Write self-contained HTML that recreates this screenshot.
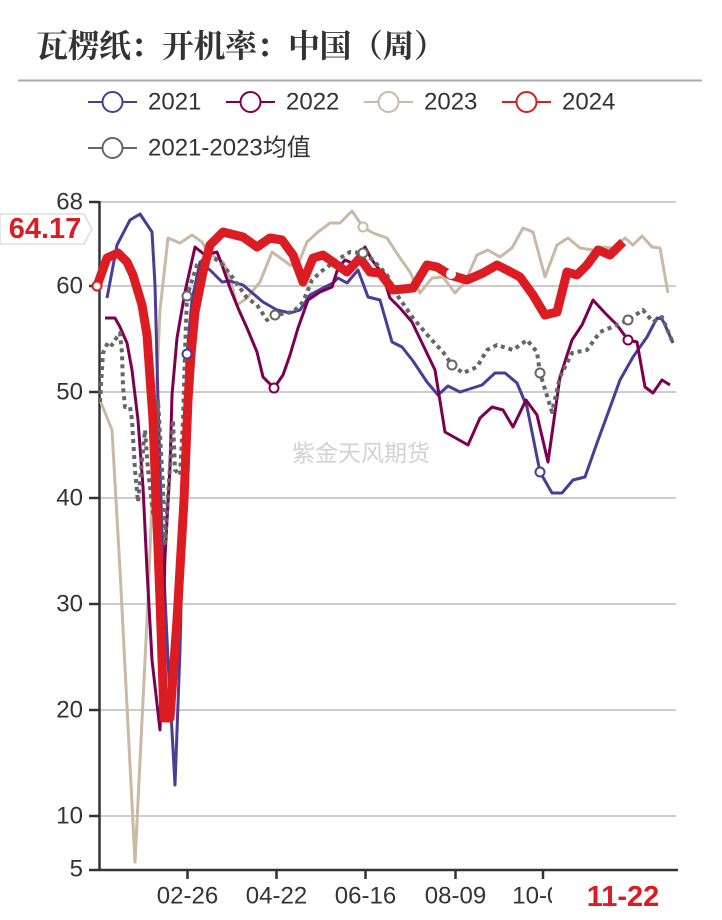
<!DOCTYPE html>
<html><head><meta charset="utf-8"><style>
html,body{margin:0;padding:0;background:#fff;}
svg{display:block;}
</style></head><body>
<svg width="722" height="920" viewBox="0 0 722 920" xmlns="http://www.w3.org/2000/svg">
<rect width="722" height="920" fill="#fff"/>
<text x="36" y="46" dominant-baseline="central" font-family="'Liberation Serif','Noto Serif CJK SC',serif" font-weight="bold" font-size="32" letter-spacing="-0.5" fill="#333">瓦楞纸：开机率：中国（周）</text>
<line x1="18" y1="80.5" x2="702" y2="80.5" stroke="#aaa" stroke-width="2"/>

<g font-family="'Liberation Sans','Noto Sans CJK SC',sans-serif" font-size="24" fill="#333">
<line x1="88" y1="102" x2="137" y2="102" stroke="#4B3C96" stroke-width="2"/><circle cx="112.5" cy="102" r="10" fill="#fff" stroke="#4B3C96" stroke-width="2"/>
<text x="148" y="102" dominant-baseline="central">2021</text>
<line x1="226" y1="102" x2="275" y2="102" stroke="#7B0050" stroke-width="2"/><circle cx="250.5" cy="102" r="10" fill="#fff" stroke="#7B0050" stroke-width="2"/>
<text x="286" y="102" dominant-baseline="central">2022</text>
<line x1="364" y1="102" x2="413" y2="102" stroke="#C9BAA6" stroke-width="2"/><circle cx="388.5" cy="102" r="10" fill="#fff" stroke="#C9BAA6" stroke-width="2"/>
<text x="424" y="102" dominant-baseline="central">2023</text>
<line x1="502" y1="102" x2="551" y2="102" stroke="#DC1C23" stroke-width="2"/><circle cx="526.5" cy="102" r="10" fill="#fff" stroke="#DC1C23" stroke-width="2"/>
<text x="562" y="102" dominant-baseline="central">2024</text>
<line x1="88" y1="148" x2="137" y2="148" stroke="#666" stroke-width="2"/><circle cx="112.5" cy="148" r="10" fill="#fff" stroke="#666" stroke-width="2"/>
<text x="148" y="148" dominant-baseline="central">2021-2023均值</text>
</g>

<!-- gridlines -->
<g stroke="#ccc" stroke-width="2">
<line x1="100" y1="202" x2="676" y2="202"/>
<line x1="100" y1="286" x2="676" y2="286"/>
<line x1="100" y1="392" x2="676" y2="392"/>
<line x1="100" y1="498" x2="676" y2="498"/>
<line x1="100" y1="604" x2="676" y2="604"/>
<line x1="100" y1="710" x2="676" y2="710"/>
<line x1="100" y1="816" x2="676" y2="816"/>
</g>

<text x="361" y="453" text-anchor="middle" dominant-baseline="central" font-family="'Liberation Sans','Noto Sans CJK SC',sans-serif" font-size="23" fill="#d2d2d2">紫金天风期货</text>

<!-- axes -->
<g stroke="#333" stroke-width="2.5">
<line x1="99.5" y1="201" x2="99.5" y2="871"/>
<line x1="89" y1="870" x2="678" y2="870"/>
<line x1="89" y1="202" x2="99" y2="202"/>
<line x1="89" y1="286" x2="99" y2="286"/>
<line x1="89" y1="392" x2="99" y2="392"/>
<line x1="89" y1="498" x2="99" y2="498"/>
<line x1="89" y1="604" x2="99" y2="604"/>
<line x1="89" y1="710" x2="99" y2="710"/>
<line x1="89" y1="816" x2="99" y2="816"/>
<line x1="187.5" y1="870" x2="187.5" y2="879"/>
<line x1="276.5" y1="870" x2="276.5" y2="879"/>
<line x1="365.5" y1="870" x2="365.5" y2="879"/>
<line x1="455.5" y1="870" x2="455.5" y2="879"/>
<line x1="543" y1="870" x2="543" y2="879"/>
</g>
<g font-family="'Liberation Sans',sans-serif" font-size="24" fill="#333" text-anchor="end">
<text x="83" y="202" dominant-baseline="central">68</text>
<text x="83" y="286" dominant-baseline="central">60</text>
<text x="83" y="392" dominant-baseline="central">50</text>
<text x="83" y="498" dominant-baseline="central">40</text>
<text x="83" y="604" dominant-baseline="central">30</text>
<text x="83" y="710" dominant-baseline="central">20</text>
<text x="83" y="816" dominant-baseline="central">10</text>
<text x="83" y="869" dominant-baseline="central">5</text>
</g>
<g font-family="'Liberation Sans',sans-serif" font-size="24" fill="#333" text-anchor="middle">
<text x="187.5" y="896" dominant-baseline="central">02-26</text>
<text x="276.5" y="896" dominant-baseline="central">04-22</text>
<text x="365.5" y="896" dominant-baseline="central">06-16</text>
<text x="455.5" y="896" dominant-baseline="central">08-09</text>
<text x="543" y="896" dominant-baseline="central">10-04</text>
</g>
<rect x="552" y="876" width="160" height="42" fill="#fff"/>
<text x="623" y="897" text-anchor="middle" dominant-baseline="central" font-family="'Liberation Sans',sans-serif" font-weight="bold" font-size="29" fill="#DC1C23">11-22</text>

<g fill="none" stroke-linejoin="round" stroke-linecap="butt">
<!-- 2023 -->
<polyline stroke="#C9BAA6" stroke-width="3" points="100,400 112,430 120,570 135,862 148,600 156,400 160,310 168,238 180,243 192,235 202,242 208,253 223,262 230,278 237,305 247,298 260,282 272,252 290,265 297,267 307,242 318,232 330,223 340,223 352,211 363,227 373,233 387,238 398,255 410,272 420,293 432,278 443,277 455,293 465,282 477,255 488,250 500,257 512,248 523,228 533,232 545,277 557,245 568,238 580,248 593,250 603,247 613,248 625,238 633,245 642,236 652,247 660,248 668,293"/>
<!-- 2021 -->
<polyline stroke="#4B3C96" stroke-width="3" points="107,298 117,245 130,220 140,214 152,232 155,285 158,400 162,533 168,660 175,785 180,650 184,480 187,354 192,300 200,262 210,270 222,282 230,281 243,285 263,302 277,310 290,313 300,310 310,295 323,288 333,283 338,278 347,283 358,270 368,297 380,300 392,342 402,347 413,361 427,382 438,395 448,386 460,392 482,385 495,373 505,373 517,383 527,407 540,472 552,493 562,493 573,480 585,477 597,443 608,413 620,380 633,357 647,337 657,318 662,319 665,325 673,343"/>
<!-- 2022 -->
<polyline stroke="#7B0050" stroke-width="3" points="105,318 115,318 120,327 127,343 132,370 138,420 143,487 147,570 152,660 160,730 165,557 170,467 172,395 177,338 185,292 195,247 205,255 217,252 222,265 230,288 238,308 247,328 257,352 263,377 274,388 283,375 290,355 298,328 308,300 320,292 332,287 338,268 345,260 352,263 365,247 372,260 382,273 390,298 400,308 412,322 423,345 435,370 445,432 468,445 480,418 492,407 503,410 513,427 526,400 537,415 548,462 560,377 572,340 582,325 593,300 605,313 617,325 628,340 637,342 645,387 653,393 662,380 670,385"/>
<!-- average -->
<polyline stroke="#666" stroke-width="4" stroke-dasharray="4,4" points="100,402 103,353 108,342 112,345 117,337 120,333 122,353 123,387 125,407 130,407 132,420 135,470 138,502 145,430 148,470 153,513 158,400 163,487 165,543 173,420 175,470 180,475 183,420 185,353 187,296 197,265 207,257 213,257 223,265 233,278 247,298 257,305 267,320 275,315 293,312 303,302 312,280 323,270 337,260 350,252 363,253 373,260 387,275 397,295 413,318 430,338 443,352 452,365 463,373 477,367 487,350 497,345 513,350 527,340 537,352 540,373 552,412 560,377 572,353 587,350 600,332 617,325 628,320 643,310 653,322 662,317 673,343"/>
<!-- 2024 -->
<polyline stroke="#DC1C23" stroke-width="9" points="97,286 107,258 118,253 127,262 133,275 142,305 147,335 153,420 160,600 164,718 170,718 177,620 184,500 188,400 191,355 195,312 203,272 210,245 223,232 243,237 257,247 270,238 282,240 293,255 303,282 313,258 323,255 333,262 347,272 360,258 370,272 380,273 393,290 413,288 427,265 437,267 450,275 467,280 483,273 497,265 507,270 520,277 533,295 545,315 557,312 567,272 577,275 587,265 598,250 610,255 623,242"/>
</g>

<!-- markers -->
<g fill="#fff" stroke-width="2">
<circle cx="187" cy="354" r="4.5" stroke="#4B3C96"/>
<circle cx="540" cy="472" r="4.5" stroke="#4B3C96"/>
<circle cx="274" cy="388" r="4.5" stroke="#7B0050"/>
<circle cx="628" cy="340" r="4.5" stroke="#7B0050"/>
<circle cx="363" cy="227" r="4.5" stroke="#C9BAA6"/>
<circle cx="451" cy="274" r="4" stroke="#fff"/>
<circle cx="187" cy="296" r="4.5" stroke="#666"/>
<circle cx="275" cy="315" r="4.5" stroke="#666"/>
<circle cx="363" cy="253" r="4.5" stroke="#666"/>
<circle cx="452" cy="365" r="4.5" stroke="#666"/>
<circle cx="540" cy="373" r="4.5" stroke="#666"/>
<circle cx="628" cy="320" r="4.5" stroke="#666"/>
<circle cx="97" cy="286" r="4.5" stroke="#DC1C23"/>
</g>

<!-- value label -->
<path d="M0,214 L84,214 L92,229 L84,244 L0,244 Z" fill="#fff" stroke="#ddd" stroke-width="1.5"/>
<text x="45" y="229" text-anchor="middle" dominant-baseline="central" font-family="'Liberation Sans',sans-serif" font-weight="bold" font-size="29" fill="#DC1C23">64.17</text>
</svg>
</body></html>
